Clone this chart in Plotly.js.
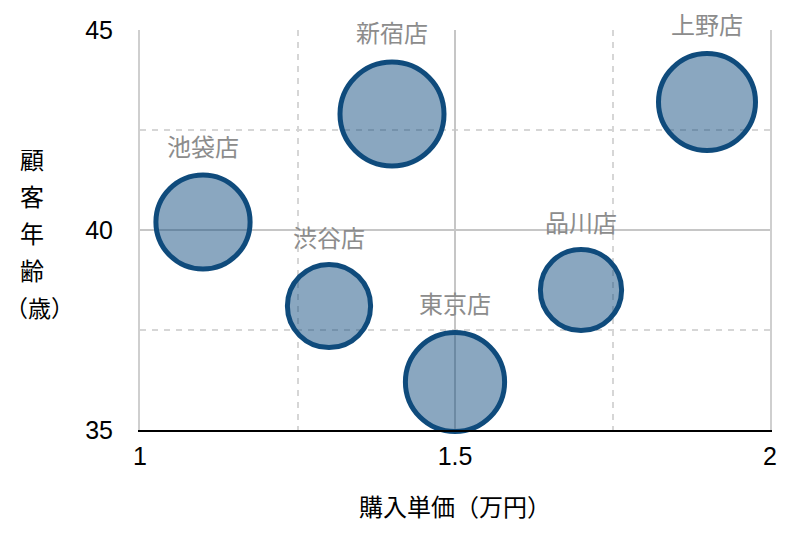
<!DOCTYPE html>
<html>
<head>
<meta charset="utf-8">
<script src="https://cdn.plot.ly/plotly-3.0.1.min.js"></script>
<style>html,body{margin:0;padding:0;background:#fff;}#chart{width:800px;height:549px;}</style>
</head>
<body>
<div id="chart"></div>
<script>
// Data
var stores = ['池袋店', '新宿店', '上野店', '渋谷店', '東京店', '品川店'];
var unitPrice = [1.1, 1.4, 1.9, 1.3, 1.5, 1.7];       // 購入単価（万円）
var customerAge = [40.2, 42.9, 43.2, 38.1, 36.2, 38.5]; // 顧客年齢（歳）
var sales = [82, 100, 87, 64, 91, 61];                  // bubble size variable
var xTitle = '購入単価（万円）';
var yTitleLines = ['顧', '客', '年', '齢', '（歳）'];

var maxSales = Math.max.apply(null, sales);
var maxDiameter = 104;

var trace = {
  type: 'scatter',
  mode: 'markers+text',
  x: unitPrice,
  y: customerAge,
  text: stores,
  textposition: 'top center',
  textfont: {family: '"Noto Sans CJK JP", sans-serif', size: 24, color: '#8c8c8c'},
  cliponaxis: false,
  hoverinfo: 'x+y+text',
  marker: {
    size: sales,
    sizemode: 'area',
    sizeref: 2 * maxSales / (maxDiameter * maxDiameter),
    opacity: 1,
    color: 'rgba(16,76,126,0.49)',
    line: {color: '#0f4b7c', width: 5}
  }
};

var annotations = yTitleLines.map(function (t, i) {
  var wide = t.length > 1;
  return {
    text: t,
    xref: 'paper', yref: 'paper',
    x: wide ? -0.16 : -0.171, y: 0.68 - i * 0.093,
    xanchor: 'center', yanchor: 'middle',
    showarrow: false,
    font: {family: '"Noto Sans CJK JP", sans-serif', size: wide ? 23 : 24, color: '#000'}
  };
});

var layout = {
  width: 800, height: 549,
  margin: {l: 140, r: 30, t: 30, b: 119},
  paper_bgcolor: '#fff', plot_bgcolor: '#fff',
  showlegend: false,
  font: {family: '"Liberation Sans", Arial, "Noto Sans CJK JP", sans-serif', color: '#000'},
  xaxis: {
    range: [1, 2],
    tickvals: [1, 1.5, 2],
    ticktext: ['1', '1.5', '2'],
    ticks: '', ticklabelstandoff: 3,
    tickfont: {size: 25, color: '#000'},
    showgrid: true, gridcolor: '#c6c6c6', gridwidth: 2,
    minor: {dtick: 0.25, tick0: 1, showgrid: true, gridcolor: '#d6d6d6', gridwidth: 2, griddash: '6px,6px', ticks: ''},
    zeroline: false,
    showline: true, linecolor: '#000', linewidth: 2,
    title: {text: xTitle, font: {family: '"Noto Sans CJK JP", sans-serif', size: 24, color: '#000'}, standoff: 30},
    fixedrange: true
  },
  yaxis: {
    range: [35, 45],
    tickvals: [35, 40, 45],
    ticktext: ['35', '40', '45'],
    ticks: '', ticklabelstandoff: 20,
    tickfont: {size: 25, color: '#000'},
    showgrid: true, gridcolor: '#c6c6c6', gridwidth: 2,
    minor: {dtick: 2.5, tick0: 35, showgrid: true, gridcolor: '#d6d6d6', gridwidth: 2, griddash: '6px,6px', ticks: ''},
    zeroline: false,
    showline: true, linecolor: '#cfcfcf', linewidth: 2, mirror: true,
    fixedrange: true
  },
  annotations: annotations
};

Plotly.newPlot('chart', [trace], layout, {displayModeBar: false});
</script>
</body>
</html>
